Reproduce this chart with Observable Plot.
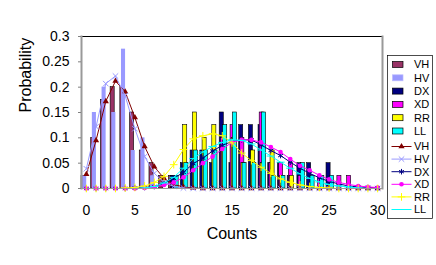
<!DOCTYPE html>
<html><head><meta charset="utf-8">
<script src="https://cdn.jsdelivr.net/npm/d3@7"></script>
<script src="https://cdn.jsdelivr.net/npm/@observablehq/plot@0.6"></script>
<style>
body{margin:0;background:#fff}
#wrap{position:relative;width:436px;height:265px;font-family:"Liberation Sans",Arial,sans-serif}
</style>
</head><body><div id="wrap"></div>
<script>
const counts = [0,1,2,3,4,5,6,7,8,9,10,11,12,13,14,15,16,17,18,19,20,21,22,23,24,25,26,27,28,29,30];
const seriesNames = ["VH","HV","DX","XD","RR","LL"];
const xTicks = [0,5,10,15,20,25,30];
const yTicks = [0,0.05,0.1,0.15,0.2,0.25,0.3];

// observed histograms (bars)
const barVH = [0.025,0.1,0.175,0.2,0.2,0.15,0.075,0.05,0.025,0.025,0,0,0,0,0,0,0,0,0,0,0,0,0,0,0,0,0,0,0,0,0];
const barHV = [0.025,0.15,0.2,0.15,0.275,0.075,0.1,0.025,0,0,0,0,0,0,0,0,0,0,0,0,0,0,0,0,0,0,0,0,0,0,0];
const barDX = [0,0,0,0,0,0,0,0,0,0.025,0.05,0.075,0.075,0.05,0.15,0.05,0.125,0.125,0.125,0.05,0.05,0.025,0.05,0.05,0,0.05,0,0,0,0,0];
const barXD = [0,0,0,0,0,0,0,0,0,0,0,0,0,0,0.1,0.125,0.1,0,0.15,0.05,0.05,0.05,0.025,0,0.025,0,0.025,0.025,0,0,0];
const barRR = [0,0,0,0,0,0,0,0,0,0,0.125,0.15,0.1,0.125,0.075,0.1,0.05,0.075,0.05,0.075,0.025,0.025,0,0,0,0,0,0,0,0,0];
const barLL = [0,0,0,0,0,0,0,0,0,0.025,0.05,0.075,0.075,0.075,0.125,0.15,0.05,0.05,0.15,0.025,0.025,0,0.05,0.025,0.025,0.025,0,0,0,0,0];

// fitted curves (lines)
const lineVH = [0.028,0.095,0.172,0.212,0.191,0.14,0.083,0.043,0.02,0.008,0.003,0.001,0,0,0,0,0,0,0,0,0,0,0,0,0,0,0,0,0,0,0];
const lineHV = [0.039,0.122,0.207,0.222,0.183,0.118,0.063,0.03,0.012,0.004,0.001,0,0,0,0,0,0,0,0,0,0,0,0,0,0,0,0,0,0,0,0];
const lineDX = [0,0,0,0,0,0.001,0.002,0.004,0.01,0.02,0.032,0.049,0.06,0.074,0.085,0.093,0.096,0.096,0.086,0.075,0.065,0.052,0.04,0.03,0.021,0.014,0.009,0.005,0.003,0.002,0.001];
const lineXD = [0,0,0,0,0,0,0.001,0.003,0.007,0.012,0.022,0.036,0.05,0.063,0.078,0.091,0.096,0.096,0.091,0.082,0.072,0.058,0.045,0.036,0.026,0.018,0.012,0.008,0.005,0.003,0.002];
const lineRR = [0,0,0,0,0.001,0.002,0.005,0.012,0.024,0.047,0.077,0.098,0.104,0.108,0.104,0.09,0.07,0.055,0.042,0.03,0.019,0.012,0.007,0.004,0.002,0.001,0,0,0,0,0];
const lineLL = [0,0,0,0,0,0,0.001,0.004,0.011,0.022,0.04,0.059,0.072,0.083,0.091,0.096,0.095,0.088,0.076,0.064,0.052,0.04,0.029,0.02,0.013,0.008,0.005,0.003,0.001,0,0];

const barColors = ["#993366","#9999ff","#000080","#ff00ff","#ffff00","#00ffff"];
const barStrokes = ["#000","none","#000","#000","#000","#000"];
const lineColors = ["#800000","#9999ff","#000080","#ff00ff","#ffff00","#00ffff"];

const dash = {draw(ctx, size){ const w = Math.sqrt(size) * 0.9; ctx.moveTo(-w, 0); ctx.lineTo(w, 0); }};
const symbols = [d3.symbolTriangle, d3.symbolTimes, d3.symbolAsterisk, d3.symbolCircle, d3.symbolPlus, dash];
const filled = [true,false,false,true,false,false];

const barSeries = [barVH,barHV,barDX,barXD,barRR,barLL];
const lineSeries = [lineVH,lineHV,lineDX,lineXD,lineRR,lineLL];

// cluster geometry in category units
const barW = 0.42, step = 0.1175;
const barMarks = barSeries.map((vals, i) => {
  const data = counts.map((c, j) => ({c, v: vals[j]})).filter(d => d.v > 0);
  return Plot.rect(data, {
    x1: d => d.c - 0.5 + i * step,
    x2: d => d.c - 0.5 + i * step + barW,
    y1: 0, y2: "v",
    fill: barColors[i], stroke: barStrokes[i], strokeWidth: 0.6
  });
});
const lineMarks = lineSeries.flatMap((vals, i) => {
  const data = counts.map((c, j) => ({c, v: vals[j]}));
  return [
    Plot.line(data, {x: "c", y: "v", stroke: lineColors[i], strokeWidth: 1}),
    Plot.dot(data, {x: "c", y: "v", symbol: symbols[i], r: filled[i] ? 2.3 : 2.6,
      fill: filled[i] ? lineColors[i] : "none", stroke: filled[i] ? "none" : lineColors[i], strokeWidth: 1})
  ];
});

const chart = Plot.plot({
  width: 436, height: 265,
  marginLeft: 81, marginRight: 54, marginTop: 36, marginBottom: 77,
  style: {fontFamily: "'Liberation Sans', Arial, sans-serif", fontSize: "14px", color: "black", background: "white", overflow: "visible"},
  x: {domain: [counts[0] - 0.5, counts[counts.length - 1] + 0.5]},
  y: {domain: [yTicks[0], yTicks[yTicks.length - 1]]},
  marks: [
    ...barMarks,
    ...lineMarks,
    Plot.frame({anchor: "top", stroke: "#000", strokeWidth: 1}),
    Plot.frame({anchor: "left", stroke: "#999", strokeWidth: 2}),
    Plot.frame({anchor: "right", stroke: "#999", strokeWidth: 2}),
    Plot.frame({anchor: "bottom", stroke: "#999", strokeWidth: 1}),
    Plot.axisY({ticks: yTicks, tickSize: 3, tickPadding: 9, stroke: "#808080", fill: "black", label: null,
      tickFormat: d => String(+d.toFixed(2))}),
    Plot.axisX({ticks: xTicks, tickSize: 0, tickPadding: 17, fill: "black", label: null, tickFormat: d => String(d)}),
    Plot.text(["Probability"], {text: d => d, frameAnchor: "left", dx: -56, rotate: -90, fontSize: 16}),
    Plot.text(["Counts"], {text: d => d, frameAnchor: "bottom", dy: 50, fontSize: 16})
  ]
});
document.getElementById("wrap").appendChild(chart);

// legend
const lg = d3.select("#wrap").append("svg")
  .attr("width", 47).attr("height", 166)
  .style("position", "absolute").style("left", "387px").style("top", "55px")
  .style("font-family", "'Liberation Sans', Arial, sans-serif").style("font-size", "11px");
lg.append("rect").attr("x", 0.5).attr("y", 0.5).attr("width", 45).attr("height", 163)
  .attr("fill", "white").attr("stroke", "#000").attr("stroke-width", 0.7);
seriesNames.forEach((name, i) => {
  const y = 9.5 + 13.3 * i;
  lg.append("rect").attr("x", 5.5).attr("y", y - 3).attr("width", 10.5).attr("height", 6)
    .attr("fill", barColors[i]).attr("stroke", barStrokes[i] === "none" ? "#bbbbff" : "#000").attr("stroke-width", 0.7);
  lg.append("text").attr("x", 27).attr("y", y).attr("dy", "0.35em").text(name);
});
seriesNames.forEach((name, i) => {
  const y = 91.5 + 12.6 * i;
  lg.append("line").attr("x1", 4.5).attr("x2", 24.5).attr("y1", y).attr("y2", y).attr("stroke", lineColors[i]).attr("stroke-width", 1);
  const r = filled[i] ? 2.3 : 2.6;
  lg.append("path").attr("transform", `translate(14.5,${y})`)
    .attr("d", d3.symbol(symbols[i], Math.PI * r * r)())
    .attr("fill", filled[i] ? lineColors[i] : "none").attr("stroke", filled[i] ? "none" : lineColors[i]);
  lg.append("text").attr("x", 27).attr("y", y).attr("dy", "0.35em").text(name);
});
</script>
</body></html>
